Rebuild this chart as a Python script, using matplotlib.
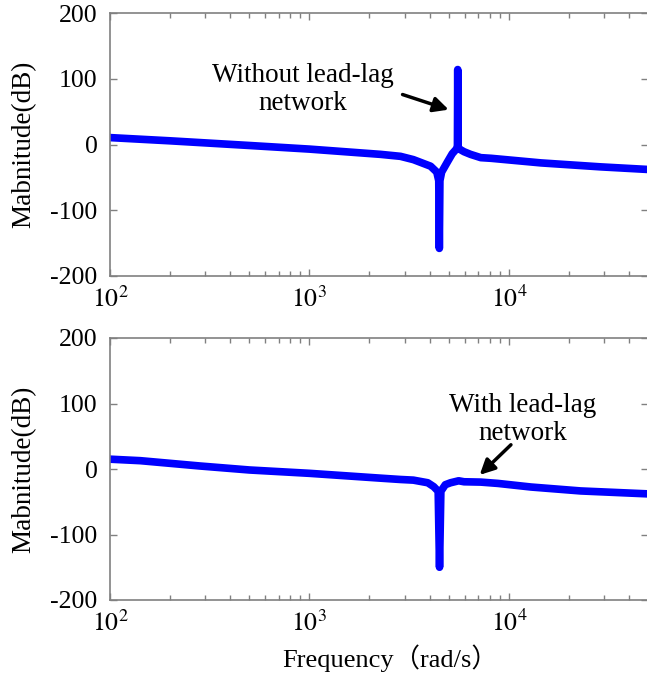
import matplotlib
matplotlib.use("Agg")
import matplotlib.pyplot as plt
import numpy as np

plt.rcParams['font.family'] = ['Liberation Serif', 'Noto Sans CJK SC']
plt.rcParams['mathtext.fontset'] = 'stix'
plt.rcParams['axes.unicode_minus'] = False

# Top: without lead-lag network
f_top = [100, 200, 500, 1000, 2275, 2860, 3320, 4050, 4350, 4450, 4480, 4510, 4600,
         4930, 5200, 5450, 5520, 5540, 5560, 5650, 5960, 6420, 7230, 8150,
         14500, 28800, 50000]
mag_top = [10.5, 5.6, -1.5, -7, -15, -18, -23, -33, -42, -55, -158, -55, -42,
           -26, -14, -7, -4, 114, -4, -7, -11, -15, -20, -21,
           -28, -34, -38]

# Bottom: with lead-lag network
f_bot = [100, 142, 282, 500, 1000, 2275, 2860, 3320, 3920, 4200, 4420, 4490, 4560,
         4800, 5100, 5600, 5960, 7230, 8810, 12900, 22900, 50000]
mag_bot = [15, 12.7, 4.6, -1.5, -6.6, -14, -16, -17, -21, -27, -34, -150, -34,
           -24, -21, -18, -19.5, -20, -22, -27.5, -33.5, -38]

yticks = [-200, -100, 0, 100, 200]
xticks = [1e2, 1e3, 1e4]
xticklabels = [r'$10^{2}$', r'$10^{3}$', r'$10^{4}$']

W, H = 647, 681
fig = plt.figure(figsize=(W / 100, H / 100), dpi=100)

def make_ax(top_px, bot_px):
    left = 110 / W
    ax = fig.add_axes([left, 1 - bot_px / H, 1 - left + 0.002, (bot_px - top_px) / H])
    ax.set_xscale('log')
    ax.set_xlim(100, 5e4)
    ax.set_ylim(-200, 200)
    ax.set_yticks(yticks)
    ax.set_xticks(xticks)
    ax.set_xticklabels(xticklabels)
    for s in ax.spines.values():
        s.set_color('#808080')
        s.set_linewidth(1.2)
    ax.tick_params(which='major', direction='in', length=5, width=1, color='#808080',
                   top=True, right=True, labelsize=18.5)
    ax.tick_params(which='minor', direction='in', length=3.5, width=1, color='#808080',
                   top=True, right=True)
    ax.tick_params(axis='y', pad=9)
    ax.tick_params(axis='x', pad=7)
    ax.set_ylabel('Mabnitude(dB)', fontsize=19.5, labelpad=10)
    return ax

ax1 = make_ax(13, 276)
ax1.plot(f_top, mag_top, color='#0000ff', lw=5.5, solid_joinstyle='round', solid_capstyle='round')
ax1.annotate('', xy=(4990, 53), xytext=(2930, 76),
             arrowprops=dict(arrowstyle='-|>,head_length=0.9,head_width=0.45', lw=2.5, color='k',
                             shrinkA=0, shrinkB=0))
ax1.text(923, 84, 'Without lead-lag\nnetwork', ha='center', va='center', fontsize=19.5, linespacing=1.15)

ax2 = make_ax(338, 600)
ax2.plot(f_bot, mag_bot, color='#0000ff', lw=5.5, solid_joinstyle='round', solid_capstyle='round')
ax2.annotate('', xy=(7140, -9), xytext=(10240, 37),
             arrowprops=dict(arrowstyle='-|>,head_length=0.9,head_width=0.45', lw=2.5, color='k',
                             shrinkA=0, shrinkB=0))
ax2.text(11750, 76, 'With lead-lag\nnetwork', ha='center', va='center', fontsize=19.5, linespacing=1.15)
ax2.set_xlabel('Frequency（rad/s）', fontsize=19, labelpad=10)
ax2.xaxis.set_label_coords(0.52, -0.17)

fig.savefig('out.png', dpi=100)
